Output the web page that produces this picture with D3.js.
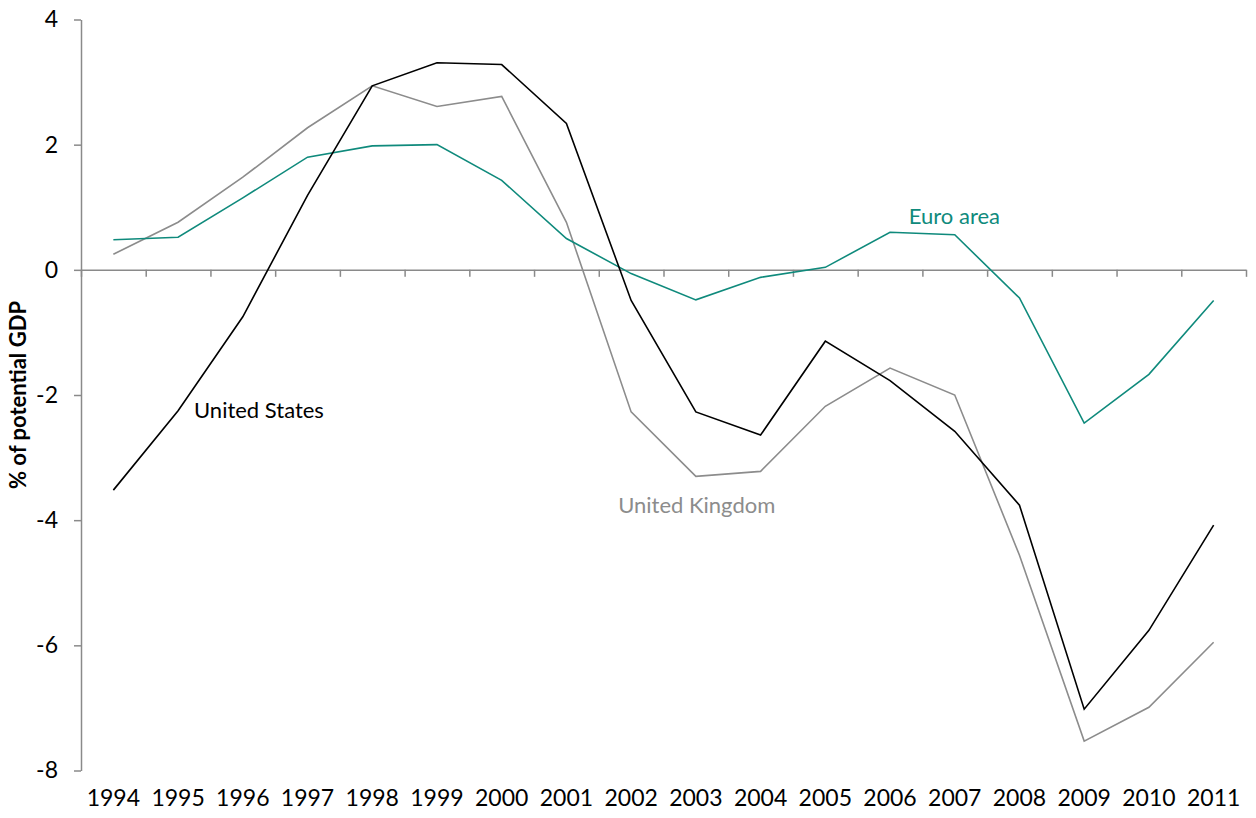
<!DOCTYPE html>
<html>
<head>
<meta charset="utf-8">
<script src="https://cdn.jsdelivr.net/npm/d3@7"></script>
<style>
  body { margin: 0; background: #fff; }
  svg text { font-family: Lato, "Open Sans", sans-serif; }
</style>
</head>
<body>
<div class="chart"></div>
<script>
var years = ["1994", "1995", "1996", "1997", "1998", "1999", "2000", "2001", "2002",
             "2003", "2004", "2005", "2006", "2007", "2008", "2009", "2010", "2011"];

var unitedStates = [-3.52, -2.25, -0.75, 1.19, 2.94, 3.31, 3.28, 2.34, -0.49,
                    -2.27, -2.64, -1.14, -1.77, -2.58, -3.76, -7.02, -5.76, -4.08];
var unitedKingdom = [0.25, 0.76, 1.48, 2.27, 2.94, 2.61, 2.77, 0.76, -2.27,
                     -3.30, -3.22, -2.18, -1.57, -2.00, -4.56, -7.53, -6.99, -5.95];
var euroArea = [0.48, 0.52, 1.15, 1.80, 1.98, 2.00, 1.43, 0.50, -0.06,
                -0.48, -0.12, 0.04, 0.60, 0.56, -0.45, -2.45, -1.67, -0.49];

var yTicks = [-8, -6, -4, -2, 0, 2, 4];

var svgWidth = 1256;
var svgHeight = 818;
var margin = { top: 19.5, right: 10, bottom: 47.5, left: 81 };
var width = svgWidth - margin.left - margin.right;
var height = svgHeight - margin.top - margin.bottom;

var svg = d3.select(".chart")
    .append("svg")
    .attr("width", svgWidth)
    .attr("height", svgHeight);

var chart = svg.append("g")
    .attr("transform", `translate(${margin.left},${margin.top})`);

var xScale = d3.scaleBand().domain(years).range([0, width]).padding(0);
var xPos = d3.scaleLinear().domain([0, years.length]).range([0, width]);
var yScale = d3.scaleLinear().domain([-8, 4]).range([height, 0]);

var axisColor = "#8a8a8a";

// y axis
var yAxis = chart.append("g")
    .attr("class", "y-axis")
    .call(d3.axisLeft(yScale).tickValues(yTicks).tickSize(7).tickPadding(16)
        .tickSizeOuter(0).tickFormat(function (d) { return String(d); }));
yAxis.select(".domain").attr("stroke", axisColor).attr("stroke-width", 1.5);
yAxis.selectAll(".tick line").attr("stroke", axisColor).attr("stroke-width", 1.5);
yAxis.selectAll(".tick text").attr("font-size", "23px").attr("fill", "#000");

// x axis line on zero, with ticks between years
var zeroAxis = chart.append("g")
    .attr("class", "x-axis")
    .attr("transform", `translate(0,${yScale(0)})`)
    .call(d3.axisBottom(xPos).ticks(years.length).tickSize(7).tickSizeOuter(0)
        .tickFormat(""));
zeroAxis.select(".domain").attr("stroke", axisColor).attr("stroke-width", 1.5);
zeroAxis.selectAll(".tick line").attr("stroke", axisColor).attr("stroke-width", 1.5);

// year labels at bottom
var labelAxis = chart.append("g")
    .attr("transform", `translate(0,${height})`)
    .call(d3.axisBottom(xScale).tickSize(0).tickPadding(19));
labelAxis.select(".domain").remove();
labelAxis.selectAll(".tick text").attr("font-size", "23px").attr("fill", "#000");

var line = d3.line()
    .x(function (d, i) { return xScale(years[i]) + xScale.bandwidth() / 2; })
    .y(function (d) { return yScale(d); });

var series = [
    { name: "United Kingdom", values: unitedKingdom, color: "#8c8c8c", lx: 8.30, ly: -3.89 },
    { name: "Euro area", values: euroArea, color: "#0f8a7c", lx: 12.79, ly: 0.74 },
    { name: "United States", values: unitedStates, color: "#000000", lx: 1.746, ly: -2.37 }
];

chart.selectAll("path.series")
    .data(series)
    .enter()
    .append("path")
    .attr("class", "series")
    .attr("fill", "none")
    .attr("stroke", function (d) { return d.color; })
    .attr("stroke-width", 1.6)
    .attr("d", function (d) { return line(d.values); });

chart.selectAll("text.series-label")
    .data(series)
    .enter()
    .append("text")
    .attr("class", "series-label")
    .attr("x", function (d) { return xPos(d.lx); })
    .attr("y", function (d) { return yScale(d.ly); })
    .attr("font-size", "22px")
    .attr("fill", function (d) { return d.color; })
    .text(function (d) { return d.name; });

svg.append("text")
    .attr("transform", `translate(26,395)rotate(-90)`)
    .attr("text-anchor", "middle")
    .attr("font-size", "22px")
    .attr("font-weight", "bold")
    .text("% of potential GDP");
</script>
</body>
</html>
